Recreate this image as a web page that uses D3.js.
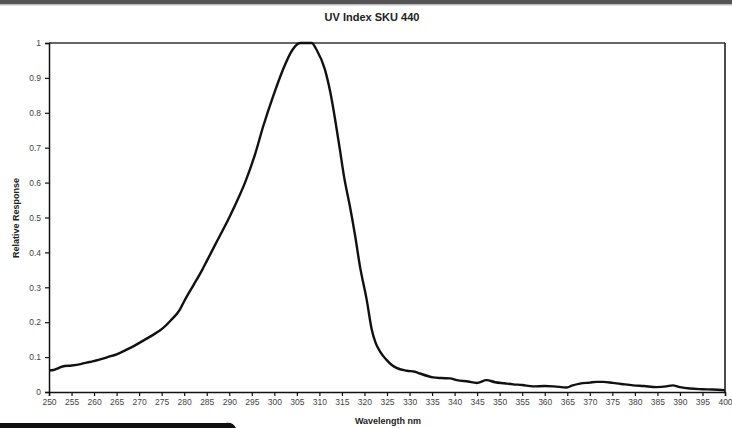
<!DOCTYPE html>
<html>
<head>
<meta charset="utf-8">
<script src="https://cdn.jsdelivr.net/npm/d3@7"></script>
<style>
  body { margin: 0; background: #fff; }
  svg { display: block; font-family: "Liberation Sans", Arial, sans-serif; }
</style>
</head>
<body>
<svg id="chart" width="732" height="428"></svg>
<script>
const wavelength = [250, 251, 252, 253, 255, 257, 259, 261, 263, 265, 267, 269, 271, 273, 275, 277, 279, 280, 282, 284, 285, 287, 290, 292, 293.5, 295.7, 297.5, 299.8, 301.8, 304, 305.7, 308.3, 309.4, 311.2, 312.4, 313.5, 314.6, 315.5, 316.8, 317.9, 319, 320.5, 321.6, 322.5, 323.5, 324.9, 326, 327.1, 329.4, 331.2, 332.3, 335.2, 337, 339, 340.5, 343, 344.9, 347.1, 349, 351, 353, 355, 357.4, 360, 362, 364.9, 366, 367.8, 370, 371.5, 373, 375.1, 377, 379.6, 382, 384.8, 387, 388.4, 390, 392.2, 395, 397.3, 400]
const response = [0.062, 0.063, 0.068, 0.073, 0.076, 0.08, 0.086, 0.092, 0.1, 0.108, 0.12, 0.133, 0.148, 0.163, 0.18, 0.205, 0.235, 0.26, 0.305, 0.35, 0.375, 0.425, 0.5, 0.555, 0.6, 0.68, 0.76, 0.85, 0.92, 0.98, 1.0, 1.0, 0.98, 0.925, 0.86, 0.78, 0.69, 0.615, 0.53, 0.45, 0.36, 0.264, 0.18, 0.14, 0.115, 0.092, 0.078, 0.069, 0.061, 0.058, 0.053, 0.042, 0.04, 0.039, 0.034, 0.03, 0.026, 0.034, 0.028, 0.025, 0.022, 0.02, 0.016, 0.017, 0.016, 0.013, 0.018, 0.024, 0.027, 0.029, 0.029, 0.026, 0.023, 0.019, 0.017, 0.014, 0.016, 0.019, 0.014, 0.01, 0.008, 0.007, 0.005]
const xTicks = d3.range(250, 401, 5)
const yTicks = [0, 0.1, 0.2, 0.3, 0.4, 0.5, 0.6, 0.7, 0.8, 0.9, 1]

const svg = d3.select("#chart")
const plot = { left: 49, right: 725, top: 43, bottom: 392 }

// dark strip at the top of the picture
svg.append("rect").attr("x", 0).attr("y", 0).attr("width", 732).attr("height", 4).attr("fill", "#555")
svg.append("rect").attr("x", 0).attr("y", 4).attr("width", 732).attr("height", 1.5).attr("fill", "#bdbdbd")

// black tab at the bottom left
svg.append("path")
  .attr("d", "M0,423 L226,423 Q233,422 236,428 L0,428 Z")
  .attr("fill", "#111")

const x = d3.scaleLinear().domain([250, 400]).range([plot.left, plot.right])
const y = d3.scaleLinear().domain([0, 1]).range([plot.bottom, plot.top])

// frame top and right
svg.append("line").attr("x1", plot.left).attr("x2", plot.right).attr("y1", plot.top).attr("y2", plot.top)
  .attr("stroke", "#333").attr("stroke-width", 1.3)
svg.append("line").attr("x1", plot.right).attr("x2", plot.right).attr("y1", plot.top).attr("y2", plot.bottom)
  .attr("stroke", "#111").attr("stroke-width", 1.5)

const xAxis = svg.append("g")
  .attr("transform", `translate(0,${plot.bottom})`)
  .call(d3.axisBottom(x).tickValues(xTicks).tickSize(4).tickPadding(3).tickFormat(d3.format("d")))
const yAxis = svg.append("g")
  .attr("transform", `translate(${plot.left},0)`)
  .call(d3.axisLeft(y).tickValues(yTicks).tickSize(4).tickPadding(4).tickFormat(d => d3.format(".1~f")(d)))

for (const g of [xAxis, yAxis]) {
  g.select(".domain").attr("stroke", "#111").attr("stroke-width", 1.5)
  g.selectAll(".tick line").attr("stroke", "#111").attr("stroke-width", 1.2)
  g.selectAll(".tick text").attr("fill", "#444").style("font-size", "8.5px")
    .style("font-family", "'Liberation Sans', Arial, sans-serif")
}

const line = d3.line()
  .x((d, i) => x(wavelength[i]))
  .y(d => y(d))
  .curve(d3.curveMonotoneX)

svg.append("path")
  .datum(response)
  .attr("d", line)
  .attr("fill", "none")
  .attr("stroke", "#111")
  .attr("stroke-width", 2.4)
  .attr("stroke-linejoin", "round")

svg.append("text")
  .attr("x", 372).attr("y", 21)
  .attr("text-anchor", "middle")
  .attr("font-weight", "bold")
  .attr("font-size", 11)
  .attr("fill", "#222")
  .text("UV Index SKU 440")

svg.append("text")
  .attr("transform", "translate(19,218) rotate(-90)")
  .attr("text-anchor", "middle")
  .attr("font-weight", "bold")
  .attr("font-size", 9)
  .attr("fill", "#222")
  .text("Relative Response")

svg.append("text")
  .attr("x", 388).attr("y", 424)
  .attr("text-anchor", "middle")
  .attr("font-weight", "bold")
  .attr("font-size", 9)
  .attr("fill", "#222")
  .text("Wavelength nm")
</script>
</body>
</html>
